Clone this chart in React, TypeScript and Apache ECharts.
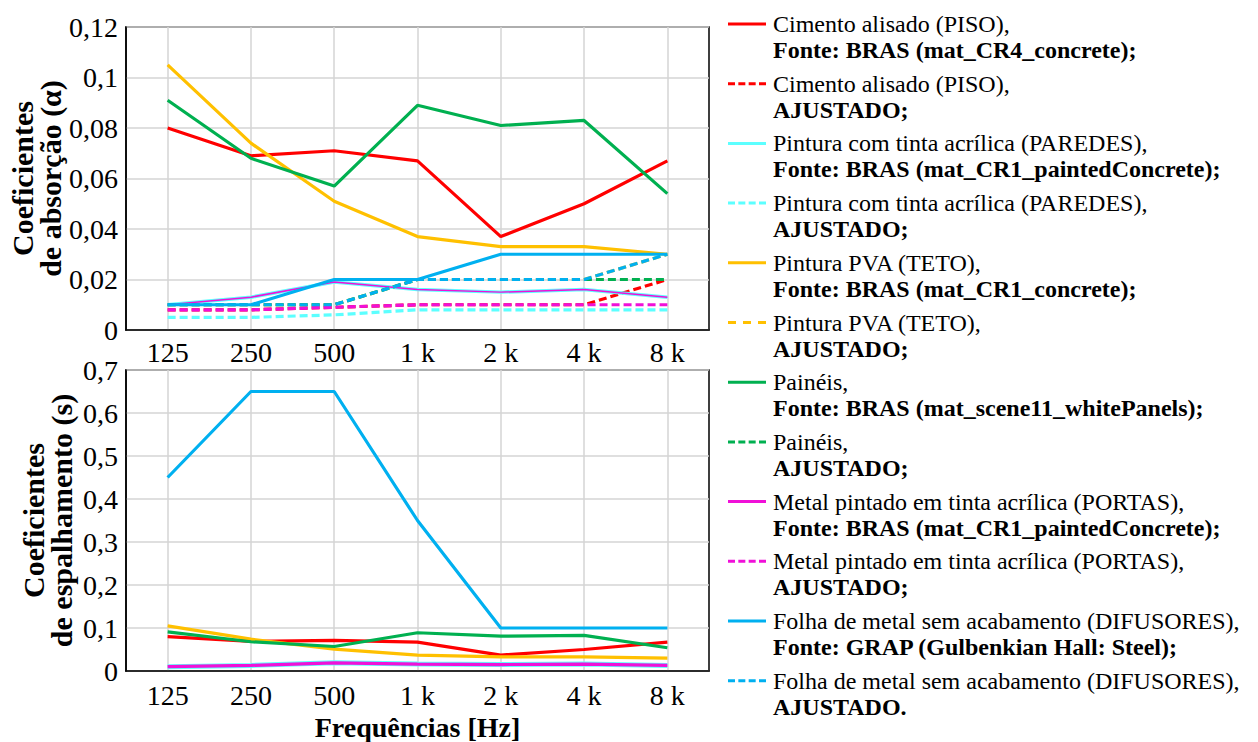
import React, { useEffect, useRef } from "react";
import * as echarts from "echarts";

const frequencies = ["125", "250", "500", "1 k", "2 k", "4 k", "8 k"];

const materials = [
  "Cimento alisado (PISO),",
  "Cimento alisado (PISO),",
  "Pintura com tinta acrílica (PAREDES),",
  "Pintura com tinta acrílica (PAREDES),",
  "Pintura PVA (TETO),",
  "Pintura PVA (TETO),",
  "Painéis,",
  "Painéis,",
  "Metal pintado em tinta acrílica (PORTAS),",
  "Metal pintado em tinta acrílica (PORTAS),",
  "Folha de metal sem acabamento (DIFUSORES),",
  "Folha de metal sem acabamento (DIFUSORES),",
];
const sources = [
  "Fonte: BRAS (mat_CR4_concrete);",
  "AJUSTADO;",
  "Fonte: BRAS (mat_CR1_paintedConcrete);",
  "AJUSTADO;",
  "Fonte: BRAS (mat_CR1_concrete);",
  "AJUSTADO;",
  "Fonte: BRAS (mat_scene11_whitePanels);",
  "AJUSTADO;",
  "Fonte: BRAS (mat_CR1_paintedConcrete);",
  "AJUSTADO;",
  "Fonte: GRAP (Gulbenkian Hall: Steel);",
  "AJUSTADO.",
];
const colors = [
  "#ff0000", "#ff0000",
  "#5cffff", "#5cffff",
  "#ffc000", "#ffc000",
  "#00b050", "#00b050",
  "#f010d8", "#f010d8",
  "#00b0f0", "#00b0f0",
];
const isDashed = [false, true, false, true, false, true, false, true, false, true, false, true];

// Absorption coefficients (α)
const absCimentoBras = [0.08, 0.069, 0.071, 0.067, 0.037, 0.05, 0.067];
const absCimentoAjust = [0.008, 0.008, 0.009, 0.01, 0.01, 0.01, 0.02];
const absPinturaBras = [0.01, 0.013, 0.019, 0.016, 0.015, 0.016, 0.013];
const absPinturaAjust = [0.005, 0.005, 0.006, 0.008, 0.008, 0.008, 0.008];
const absPvaBras = [0.105, 0.074, 0.051, 0.037, 0.033, 0.033, 0.03];
const absPvaAjust = [0.01, 0.01, 0.01, 0.02, 0.02, 0.02, 0.03];
const absPaineisBras = [0.091, 0.068, 0.057, 0.089, 0.081, 0.083, 0.054];
const absPaineisAjust = [0.01, 0.01, 0.01, 0.02, 0.02, 0.02, 0.02];
const absMetalBras = [0.01, 0.013, 0.019, 0.016, 0.015, 0.016, 0.013];
const absMetalAjust = [0.008, 0.008, 0.009, 0.01, 0.01, 0.01, 0.01];
const absFolhaGrap = [0.01, 0.01, 0.02, 0.02, 0.03, 0.03, 0.03];
const absFolhaAjust = [0.01, 0.01, 0.01, 0.02, 0.02, 0.02, 0.03];

// Scattering coefficients (s)
const scatCimento = [0.08, 0.069, 0.071, 0.067, 0.037, 0.05, 0.067];
const scatPintura = [0.01, 0.013, 0.019, 0.016, 0.015, 0.016, 0.013];
const scatPva = [0.105, 0.074, 0.051, 0.037, 0.033, 0.033, 0.03];
const scatPaineis = [0.091, 0.068, 0.057, 0.089, 0.081, 0.083, 0.054];
const scatMetal = [0.01, 0.013, 0.019, 0.016, 0.015, 0.016, 0.013];
const scatFolha = [0.45, 0.65, 0.65, 0.35, 0.1, 0.1, 0.1];

const absSeries = [
  absCimentoBras, absCimentoAjust, absPinturaBras, absPinturaAjust,
  absPvaBras, absPvaAjust, absPaineisBras, absPaineisAjust,
  absMetalBras, absMetalAjust, absFolhaGrap, absFolhaAjust,
];
const scatSeries: [number, number[]][] = [
  [0, scatCimento], [2, scatPintura], [4, scatPva],
  [6, scatPaineis], [8, scatMetal], [10, scatFolha],
];

const names = materials.map((m, i) => `${m} ${sources[i]}`);

const FONT = "'Liberation Serif', 'Times New Roman', serif";
const IW = 40;
const IH = 52;

function iconPath(dashed: boolean, nDash: number) {
  const cy = 13;
  const th = 3;
  let d = `M0,0h0.01v0.01h-0.01Z M${IW - 0.01},${IH - 0.01}h0.01v0.01h-0.01Z `;
  if (!dashed) {
    d += `M0,${cy - th / 2}h38v${th}h-38Z`;
  } else {
    const len = 38;
    const dash = nDash === 3 ? 8 : 7;
    const gap = (len - nDash * dash) / (nDash - 1);
    for (let k = 0; k < nDash; k++) {
      const x = k * (dash + gap);
      d += `M${x},${cy - th / 2}h${dash}v${th}h${-dash}Z `;
    }
  }
  return "path://" + d;
}

const fmt = (v: number) => (v === 0 ? "0" : String(Math.round(v * 100) / 100).replace(".", ","));

export default function App() {
  const ref = useRef<HTMLDivElement>(null);
  useEffect(() => {
    if (!ref.current) return;
    const chart = echarts.init(ref.current, undefined, { renderer: "svg" });

    const axisLabel = { fontFamily: FONT, fontSize: 28, color: "#000" };
    const gridLine = { show: true, lineStyle: { color: "#d4d4d4", width: 1.5 } };

    const xAxisBase = (gridIndex: number, withName: boolean) => ({
      type: "category",
      gridIndex,
      data: frequencies,
      boundaryGap: true,
      axisLine: { show: true, lineStyle: { color: "#000", width: 1.5 } },
      axisTick: { show: false },
      axisLabel: { ...axisLabel, margin: gridIndex === 1 ? 10 : 8, interval: 0 },
      splitLine: { ...gridLine, alignWithLabel: true },
      name: withName ? "Frequências [Hz]" : "",
      nameLocation: "middle",
      nameGap: 42,
      nameTextStyle: { fontFamily: FONT, fontSize: 28, fontWeight: "bold", color: "#000" },
    });

    const yAxisBase = (gridIndex: number, max: number, interval: number, name: string) => ({
      type: "value",
      gridIndex,
      min: 0,
      max,
      interval,
      axisLine: { show: true, lineStyle: { color: "#000", width: 1.5 } },
      axisTick: { show: false },
      axisLabel: { ...axisLabel, margin: 8, formatter: fmt },
      splitLine: gridLine,
      name,
      nameLocation: "middle",
      nameRotate: 90,
      nameGap: 51,
      nameTextStyle: {
        fontFamily: FONT, fontSize: 30, fontWeight: "bold", color: "#000", lineHeight: 28, align: "center",
      },
    });

    const series: any[] = [];
    absSeries.forEach((d, i) => {
      const thin = i === 8;
      series.push({
        type: "line",
        name: names[i],
        xAxisIndex: 0,
        yAxisIndex: 0,
        data: d,
        symbol: "none",
        itemStyle: { color: colors[i] },
        lineStyle: {
          color: colors[i],
          width: thin ? 1.5 : i === 2 ? 3.5 : 3.2,
          type: isDashed[i] ? [8, 4] : "solid",
        },
      });
    });
    scatSeries.forEach(([idx, d]) => {
      series.push({
        type: "line",
        name: names[idx],
        xAxisIndex: 1,
        yAxisIndex: 1,
        data: d,
        symbol: "none",
        itemStyle: { color: colors[idx] },
        lineStyle: { color: colors[idx], width: idx === 2 ? 5 : 3.2 },
      });
    });

    chart.setOption({
      animation: false,
      backgroundColor: "#fff",
      textStyle: { fontFamily: FONT },
      grid: [
        { left: 126, right: 549, top: 27, height: 303, show: true, borderColor: "#000", borderWidth: 1.5, backgroundColor: "transparent" },
        { left: 126, right: 549, top: 370, height: 306, show: true, borderColor: "#000", borderWidth: 1.5, backgroundColor: "transparent" },
      ],
      xAxis: [xAxisBase(0, false), xAxisBase(1, true)],
      yAxis: [
        yAxisBase(0, 0.12, 0.02, "Coeficientes\nde absorção (α)"),
        yAxisBase(1, 0.7, 0.1, "Coeficientes\nde espalhamento (s)"),
      ],
      legend: {
        orient: "vertical",
        left: 723,
        top: 6,
        itemGap: 7.7,
        itemWidth: IW,
        itemHeight: IH,
        itemStyle: { borderWidth: 0 },
        selectedMode: false,
        data: names.map((n, i) => ({
          name: n,
          icon: iconPath(isDashed[i], i === 5 ? 3 : 4),
        })),
        formatter: (n: string) => {
          const i = names.indexOf(n);
          return `{a|${materials[i]}}\n{b|${sources[i]}}`;
        },
        textStyle: {
          color: "#000",
          fontFamily: FONT,
          fontSize: 24,
          rich: {
            a: { fontFamily: FONT, fontSize: 24, lineHeight: 26, color: "#000" },
            b: { fontFamily: FONT, fontSize: 24, lineHeight: 26, fontWeight: "bold", color: "#000" },
          },
        },
      },
      series,
    });

    return () => chart.dispose();
  }, []);

  return (
    <div
      ref={ref}
      style={{ position: "fixed", left: 0, top: 0, width: 1258, height: 742, background: "#fff" }}
    />
  );
}
